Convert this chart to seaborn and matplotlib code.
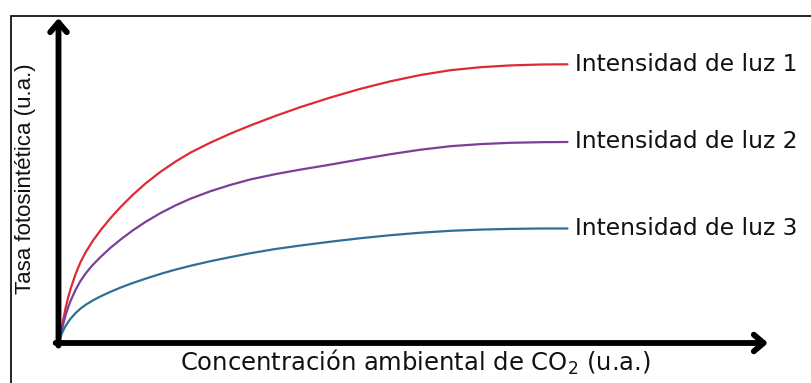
import matplotlib
matplotlib.use("Agg")
import matplotlib.pyplot as plt
import seaborn as sns
import pandas as pd
from matplotlib.patches import Rectangle

sns.set_theme(style="white")
plt.rcParams['font.family'] = ['DejaVu Sans']

# CO2 concentration (arbitrary units)
concentracion = [0, 1, 2.5, 5, 7.5, 10, 15, 20, 25, 32, 40, 50, 60, 72, 85, 100, 115, 130,
                 150, 170, 190, 215, 240, 270, 300, 330, 360, 390, 420, 450, 480, 507]
# photosynthetic rate (arbitrary units)
luz1 = [0, 7, 16, 28.5, 39, 47.8, 62.8, 74.8, 84.5, 95.7, 106.7, 118.9, 129.9, 141.9, 153.5,
        165.2, 175.4, 184.4, 194.4, 203.4, 211.6, 221.1, 229.9, 239.5, 248.2, 255.7, 262.0,
        266.8, 269.8, 271.6, 272.5, 272.7]
luz2 = [0, 5.3, 12.0, 21.4, 29.3, 35.9, 47.1, 56.1, 63.4, 71.8, 80.0, 89.2, 97.4, 106.4, 115.1,
        123.9, 131.6, 138.3, 145.8, 152.1, 157.6, 162.9, 167.4, 172.4, 177.7, 182.8, 187.3,
        190.8, 192.9, 194.2, 194.8, 195.0]
luz3 = [0, 2.7, 6.1, 10.8, 14.8, 18.2, 23.9, 28.4, 32.1, 36.4, 40.6, 45.2, 49.4, 53.9, 58.3,
        63.1, 67.4, 71.2, 75.8, 79.9, 83.8, 88.0, 91.5, 95.3, 98.8, 101.8, 104.3, 106.2,
        107.4, 108.1, 108.5, 108.5]
series_names = ["Intensidad de luz 1", "Intensidad de luz 2", "Intensidad de luz 3"]
colores = ["#DE2A35", "#7B3F98", "#316E97"]

df = pd.DataFrame({
    "x": concentracion * 3,
    "y": luz1 + luz2 + luz3,
    "serie": [series_names[0]] * len(luz1) + [series_names[1]] * len(luz2) + [series_names[2]] * len(luz3),
})

fig = plt.figure(figsize=(8.12, 3.83), dpi=100)
ax = fig.add_axes([58.5 / 812, 1 - 343 / 383, (768 - 58.5) / 812, (343 - 18) / 383])

sns.lineplot(data=df, x="x", y="y", hue="serie", palette=colores, ax=ax,
             linewidth=1.6, legend=False, sort=True)
for ln in ax.lines:
    ln.set_solid_joinstyle("round")
    ln.set_solid_capstyle("round")

ax.set_xlim(-2, 707.5)
ax.set_ylim(-6, 319)
for s in ax.spines.values():
    s.set_visible(False)
ax.set_xticks([])
ax.set_yticks([])
ax.set_xlabel("")
ax.set_ylabel("")
ax.patch.set_alpha(0)

# axis arrows
arrow_kw = dict(arrowstyle="->,head_length=0.35,head_width=0.3", lw=4.2, color="black",
                shrinkA=0, shrinkB=0, mutation_scale=20)
ax.annotate("", xy=(0, 1.0), xytext=(0, -0.008), xycoords="axes fraction",
            arrowprops=arrow_kw, annotation_clip=False)
ax.annotate("", xy=(1.0, 0), xytext=(-0.004, 0), xycoords="axes fraction",
            arrowprops=arrow_kw, annotation_clip=False)

# series labels at curve ends
finales = [luz1[-1], luz2[-1], luz3[-1]]
for name, yv in zip(series_names, finales):
    ax.text(515, yv, name, fontsize=16.8, color="#111111", va="center", ha="left",
            family="DejaVu Sans", clip_on=False)

# axis titles
fig.text(415 / 812, 1 - 362 / 383, "Concentración ambiental de CO$_2$ (u.a.)",
         fontsize=17.5, ha="center", va="center", color="#111111")
fig.text(26 / 812, 1 - 179 / 383, "Tasa fotosintética (u.a.)", rotation=90,
         fontsize=16, ha="center", va="center", color="#111111",
         family=["Liberation Sans Narrow", "Liberation Sans", "DejaVu Sans"])

# outer frame
fig.patches.append(Rectangle((11.5 / 812, -0.1), 1.2, 1 - 15.5 / 383 + 0.1,
                             transform=fig.transFigure, fill=False,
                             edgecolor="black", lw=1.2))

fig.savefig("out.png", dpi=100)
